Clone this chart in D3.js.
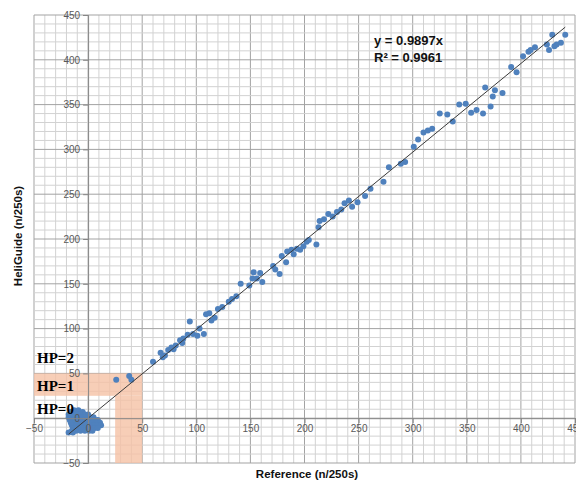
<!DOCTYPE html>
<html>
<head>
  <title>HeliGuide vs Reference</title>
  <script src="https://d3js.org/d3.v7.min.js"></script>
  <style>
    body { margin: 0; background: #fff; }
    .tick text { font-family: "Liberation Sans", sans-serif; font-size: 10px; fill: #595959; }
    .hp { font-family: "Liberation Serif", serif; font-weight: bold; font-size: 15px; fill: #000; }
    .title { font-family: "Liberation Sans", sans-serif; font-weight: bold; font-size: 11.5px; fill: #111; }
    .eq { font-family: "Liberation Sans", sans-serif; font-weight: bold; font-size: 13px; fill: #111; }
  </style>
</head>
<body>
<div id="chart"></div>
<script>
  // reference counts (x) and HeliGuide counts (y), n/250s
  const refVals = [
    26, 38, 40,
    60, 67, 69, 71, 74, 77, 79, 81, 85, 87, 88, 92, 94, 97, 101, 103, 107, 109, 112, 114, 117, 120, 124, 130,
    133, 137,
    141, 149, 152, 153, 156, 159, 161, 171, 173, 177, 179, 183, 184, 188, 190, 193, 196, 199, 202, 204, 211, 213, 214,
    218, 222, 226, 230, 234, 237, 244,
    241, 249, 256, 261, 273, 278, 289, 293, 301,
    305, 310, 314,
    318, 325, 332, 337, 343, 349, 354, 359, 365, 367, 372, 374, 376, 383, 391, 396, 402, 407, 409, 413, 424, 426, 429, 431, 433, 437, 441
  ];
  const heliVals = [
    43, 47, 43,
    63, 73, 68, 70, 76, 79, 77, 81, 87, 84, 89, 93, 108, 94, 92, 100, 94, 116, 117, 109, 112, 122, 124, 130,
    133, 136,
    150, 148, 156, 163, 156, 162, 152, 170, 166, 161, 181, 174, 186, 188, 183, 189, 188, 192, 197, 199, 194, 213, 220,
    222, 228, 225, 230, 233, 240, 236,
    243, 241, 248, 256, 264, 280, 284, 286, 303,
    311, 319, 321,
    323, 340, 339, 331, 350, 351, 341, 344, 340, 369, 348, 359, 366, 363, 392, 386, 404, 409, 411, 414, 417, 411, 428, 415, 417, 419, 428
  ];

  // HP=0 cluster near the origin
  const clusterX = [
    -13, -9,
    -16, -12, -8, -5,
    -18, -15, -11, -7, -3, 0,
    -18, -14, -10, -6, -2, 2, 5,
    -17, -13, -9, -5, -1, 3, 6, 9,
    -16, -12, -8, -4, 0, 4, 8, 11,
    -15, -11, -7, -3, 1, 5, 9, 12,
    -14, -10, -6, -2, 2, 6, 9,
    -15, -11, -7, -3, 1, 4,
    -18, -14
  ];
  const clusterY = [
    9, 9,
    7, 7, 7, 7,
    4, 4, 4, 4, 4, 4,
    1, 1, 1, 1, 1, 1, 1,
    -2, -2, -2, -2, -2, -2, -2, -2,
    -5, -5, -5, -5, -5, -5, -5, -5,
    -8, -8, -8, -8, -8, -8, -8, -8,
    -11, -11, -11, -11, -11, -11, -11,
    -14, -14, -14, -14, -14, -14,
    -16, -16
  ];

  const slope = 0.9897;
  const axisTicks = [-50, 0, 50, 100, 150, 200, 250, 300, 350, 400, 450];
  const hpLabels = ["HP=2", "HP=1", "HP=0"];
  const hpLabelY = [62, 30, 5];

  const width = 576, height = 480;
  const svg = d3.select("#chart").append("svg")
    .attr("width", width)
    .attr("height", height);

  const x = d3.scaleLinear().domain([-50, 450]).range([34, 575]);
  const y = d3.scaleLinear().domain([-50, 450]).range([463, 15]);

  // grid: minor every 10, major every 50
  const grid = svg.append("g");
  const minor = d3.range(-50, 451, 10);
  grid.selectAll(".vminor").data(minor).join("line")
    .attr("x1", d => x(d)).attr("x2", d => x(d))
    .attr("y1", y(-50)).attr("y2", y(450))
    .attr("stroke", d => d % 50 === 0 ? "#a3a3a3" : "#d2d2d2")
    .attr("stroke-width", 1);
  grid.selectAll(".hminor").data(minor).join("line")
    .attr("y1", d => y(d)).attr("y2", d => y(d))
    .attr("x1", x(-50)).attr("x2", x(450))
    .attr("stroke", d => d % 50 === 0 ? "#a3a3a3" : "#d2d2d2")
    .attr("stroke-width", 1);

  // HP=1 L-shaped band
  const band = svg.append("g").attr("fill", "#f6c2a6").attr("opacity", 0.8);
  band.append("rect")
    .attr("x", x(-50)).attr("y", y(50))
    .attr("width", x(50) - x(-50)).attr("height", y(25) - y(50));
  band.append("rect")
    .attr("x", x(25)).attr("y", y(25))
    .attr("width", x(50) - x(25)).attr("height", y(-50) - y(25));

  // points
  const pts = refVals.map((v, i) => [v, heliVals[i]])
    .concat(clusterX.map((v, i) => [v, clusterY[i]]));
  svg.append("g").selectAll("circle").data(pts).join("circle")
    .attr("cx", d => x(d[0]))
    .attr("cy", d => y(d[1]))
    .attr("r", 3)
    .attr("fill", "#4f81bd");

  // trendline through origin
  const xExt = d3.extent(pts, d => d[0]);
  svg.append("line")
    .attr("x1", x(xExt[0])).attr("y1", y(xExt[0] * slope))
    .attr("x2", x(xExt[1])).attr("y2", y(xExt[1] * slope))
    .attr("stroke", "#3a3a3a")
    .attr("stroke-width", 1);

  // axes crossing at 0
  const yAxis = svg.append("g")
    .attr("transform", `translate(${x(0)},0)`)
    .call(d3.axisLeft(y).tickValues(axisTicks).tickSize(5).tickPadding(3));
  const xAxis = svg.append("g")
    .attr("transform", `translate(0,${y(0)})`)
    .call(d3.axisBottom(x).tickValues(axisTicks).tickSize(5).tickPadding(2));
  [xAxis, yAxis].forEach(a => {
    a.select(".domain").attr("stroke", "#868686");
    a.selectAll(".tick line").attr("stroke", "#868686");
    a.attr("font-family", null).attr("font-size", null);
  });

  // HP labels
  svg.selectAll(".hp").data(hpLabels).join("text")
    .attr("class", "hp")
    .attr("x", 37)
    .attr("y", (d, i) => y(hpLabelY[i]))
    .text(d => d);

  // equation
  svg.append("text").attr("class", "eq").attr("x", 374).attr("y", 45).text("y = 0.9897x");
  svg.append("text").attr("class", "eq").attr("x", 374).attr("y", 62).text("R² = 0.9961");

  // axis titles
  svg.append("text").attr("class", "title")
    .attr("x", 307).attr("y", 478)
    .attr("text-anchor", "middle")
    .text("Reference (n/250s)");
  svg.append("text").attr("class", "title")
    .attr("transform", "translate(22,236) rotate(-90)")
    .attr("text-anchor", "middle")
    .text("HeliGuide (n/250s)");
</script>
</body>
</html>
